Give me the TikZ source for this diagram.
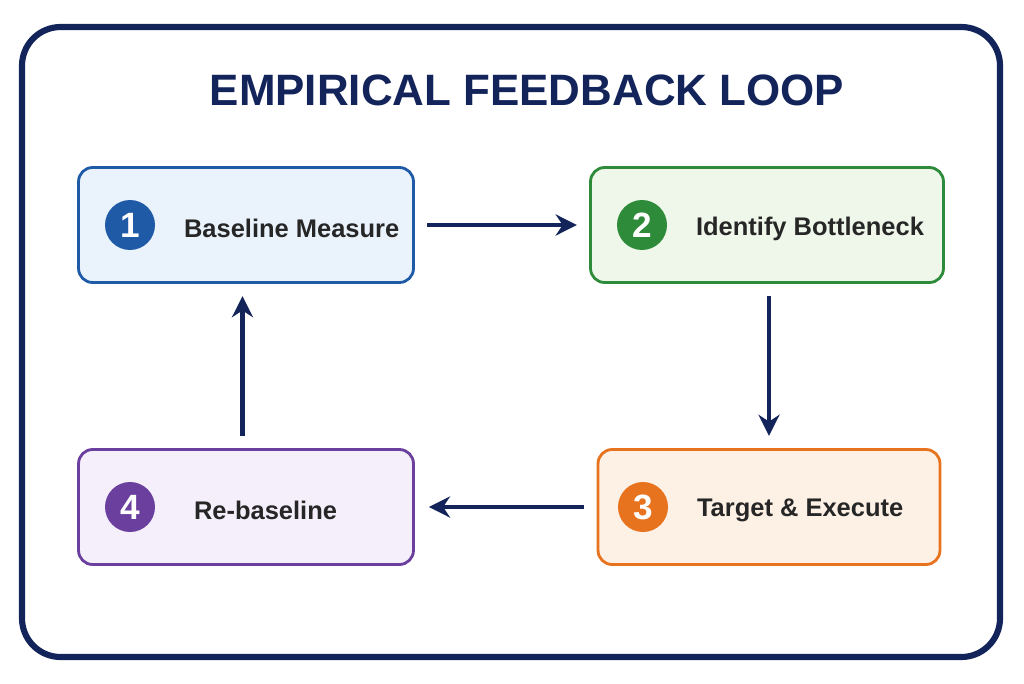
\documentclass[tikz,border=0pt]{standalone}
\usepackage{fontspec}
\setmainfont{Liberation Sans}
\usetikzlibrary{positioning,arrows.meta}
\definecolor{navy}{HTML}{13245A}
\definecolor{bluec}{HTML}{1F5AA6}\definecolor{bluef}{HTML}{EAF3FC}
\definecolor{greenc}{HTML}{2E8B3A}\definecolor{greenf}{HTML}{EEF7EA}
\definecolor{orangec}{HTML}{E8731E}\definecolor{orangef}{HTML}{FDF1E6}
\definecolor{purplec}{HTML}{6A3F9E}\definecolor{purplef}{HTML}{F4EFFA}
\begin{document}
\begin{tikzpicture}[x=0.02cm,y=-0.02cm,
  step box/.style={draw=#1c, fill=#1f, line width=1.6pt, rounded corners=8pt,
    minimum width=6.7cm, minimum height=2.3cm},
  num/.style={circle, fill=#1c, text=white, minimum size=1cm, inner sep=0pt,
    font=\fontsize{20}{20}\selectfont\bfseries},
  lbl/.style={font=\fontsize{14.5}{14.5}\selectfont\bfseries, text=black!85},
  flow/.style={-{Stealth[length=12pt,width=12pt]}, line width=2.6pt, draw=navy}]
\useasboundingbox (0,0) rectangle (1024,683);
\draw[navy, line width=3.5pt, rounded corners=22pt] (22,27) rectangle (1000,657);
\node[text=navy, font=\fontsize{25}{25}\selectfont\bfseries] (title) at (527,90) {EMPIRICAL FEEDBACK LOOP};
% steps
\node[step box=blue]   (base)   at (246,225) {};
\node[step box=green, minimum width=7.06cm] (ident) at (767,225) {};
\node[step box=orange, minimum width=6.84cm] (target) at (769,507) {};
\node[step box=purple] (rebase) at (246,507) {};
\node[num=blue]   (n1) at (130,225) {1};
\node[num=green]  (n2) at (642,225) {2};
\node[num=orange] (n3) at (643,507) {3};
\node[num=purple] (n4) at (130,507) {4};
\node[lbl, right=0.45cm of n1, yshift=-2pt] (t1) {Baseline Measure};
\node[lbl, right=0.45cm of n2, yshift=-2pt] (t2) {Identify Bottleneck};
\node[lbl, right=0.45cm of n3, yshift=-2pt] (t3) {Target \& Execute};
\node[lbl, right=0.65cm of n4, yshift=-2pt] (t4) {Re-baseline};
% loop
\draw[flow] ([xshift=7]base.east) -- ([xshift=-7]ident.west);
\draw[flow] ([yshift=-7]ident.south -| target.north) -- ([yshift=7]target.north);
\draw[flow] ([xshift=-7]target.west) -- ([xshift=8]rebase.east);
\draw[flow] ([xshift=-2,yshift=7]rebase.north) -- ([xshift=-2,yshift=-7]base.south);
\end{tikzpicture}
\end{document}
